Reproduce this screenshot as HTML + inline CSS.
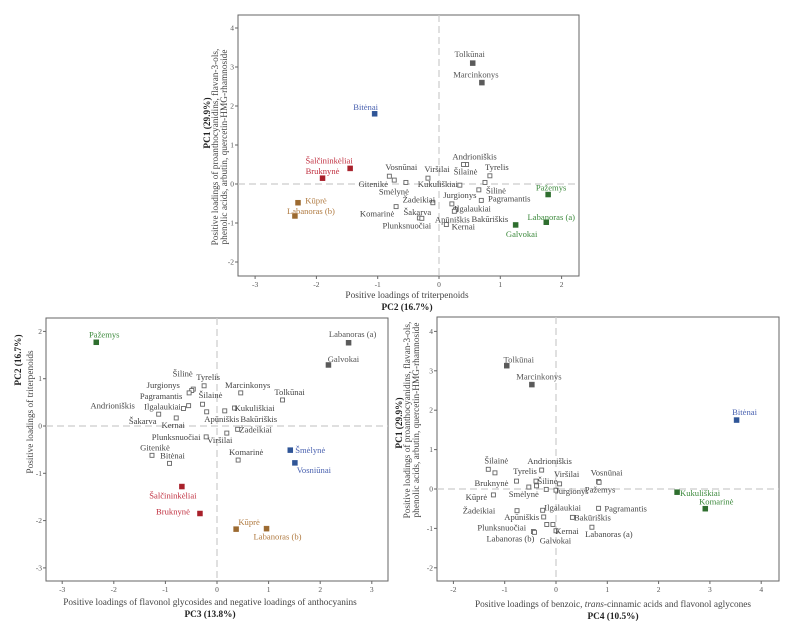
<!DOCTYPE html>
<html><head><meta charset="utf-8"><style>
html,body{margin:0;padding:0;background:#fff;}
svg{display:block;font-family:"Liberation Serif",serif;}
</style></head><body>
<svg id="fig" width="794" height="629" viewBox="0 0 794 629" xmlns="http://www.w3.org/2000/svg"></svg>
<script>
// ---------- Panel 1: PC2 (x) vs PC1 (y)
const p1Names=["Tolkūnai","Marcinkonys","Bitėnai","Šalčininkėliai","Bruknynė","Kūprė","Labanoras (b)","Pažemys","Labanoras (a)","Galvokai","Andrioniškis","Šilainė","Tyrelis","Vosnūnai","Gitenikė","Smėlynė","Viršilai","Kukuliškiai","Šilinė","Jurgionys","Pagramantis","Žadeikiai","Komarinė","Šakarva","Plunksnuočiai","Ilgalaukiai","Apūniškis","Bakūriškis","Kernai"];
const p1X=[0.55,0.7,-1.05,-1.45,-1.9,-2.3,-2.35,1.78,1.75,1.25,0.45,0.4,0.83,-0.81,-0.73,-0.54,-0.18,0.34,0.75,0.65,0.69,-0.1,-0.7,-0.32,-0.28,0.27,0.25,0.21,0.12];
const p1Y=[3.1,2.6,1.8,0.4,0.15,-0.48,-0.82,-0.27,-0.98,-1.05,0.5,0.5,0.21,0.2,0.1,0.04,0.15,-0.03,0.04,-0.15,-0.42,-0.48,-0.58,-0.87,-0.88,-0.66,-0.7,-0.51,-1.04];
const p1Group=["g","g","b","r","r","o","o","n","n","n","w","w","w","w","w","w","w","w","w","w","w","w","w","w","w","w","w","w","w"];
const p1Dx=[-3,-6,-9,-21,0,18,16,3,5,6,8,2,7,12,-21,-12,9,-22,11,-19,28,-14,-19,-2,-15,17,-2,38,17];
const p1Dy=[-9,-8,-7,-8,-7,-2,-5,-7,-5,9,-8,7,-9,-9,4,9,-9,-1,8,5,-2,-3,7,-6,7,-1,8,15,2];
const p1XTicks=[-3,-2,-1,0,1,2];
const p1YTicks=[-2,-1,0,1,2,3,4];

// ---------- Panel 2: PC3 (x) vs PC2 (y)
const p2Names=["Pažemys","Labanoras (a)","Galvokai","Šmėlynė","Vosniūnai","Šalčininkėliai","Bruknynė","Kūprė","Labanoras (b)","Tyrelis","Jurgionys","Šilinė","Pagramantis","Šilainė","Marcinkonys","Tolkūnai","Šakarva","Kernai","Andrioniškis","Ilgalaukiai","Kukuliškiai","Apūniškis","Bakūriškis","Žadeikiai","Viršilai","Plunksnuočiai","Gitenikė","Bitėnai","Komarinė"];
const p2X=[-2.34,2.55,2.16,1.42,1.51,-0.68,-0.33,0.37,0.96,-0.25,-0.46,-0.49,-0.54,-0.28,0.46,1.27,-1.13,-0.79,-0.55,-0.65,0.34,-0.2,0.15,0.4,0.19,-0.21,-1.26,-0.92,0.41];
const p2Y=[1.77,1.76,1.29,-0.51,-0.78,-1.28,-1.85,-2.18,-2.17,0.85,0.78,0.75,0.7,0.46,0.7,0.55,0.25,0.17,0.43,0.37,0.38,0.3,0.32,-0.07,-0.15,-0.23,-0.62,-0.79,-0.72];
const p2Group=["n","g","g","b","b","r","r","o","o","w","w","w","w","w","w","w","w","w","w","w","w","w","w","w","w","w","w","w","w"];
const p2Dx=[8,4,15,20,19,-9,-27,13,11,4,-30,-9,-28,8,7,7,-16,-3,-76,-21,20,15,34,18,-7,-30,3,3,8];
const p2Dy=[-8,-9,-6,0,7,9,-2,-7,8,-9,-4,-17,3,-9,-8,-8,7,7,0,-2,0,7,8,0,7,0,-8,-8,-8];
const p2XTicks=[-3,-2,-1,0,1,2,3];
const p2YTicks=[-3,-2,-1,0,1,2];

// ---------- Panel 3: PC4 (x) vs PC1 (y)
const p3Names=["Tolkūnai","Marcinkonys","Bitėnai","Kukuliškiai","Komarinė","Šilainė","Bruknynė","Andrioniškis","Tyrelis","Šilinė","Smėlynė","Viršilai","Vosnūnai","Pažemys","Jurgionys","Šakarva","Žadeikiai","Kūprė","Ilgalaukiai","Pagramantis","Apūniškis","Bakūriškis","Labanoras (a)","Plunksnuočiai","Gitenikė","Labanoras (b)","Galvokai","Kernai","Šalčininkėliai"];
const p3Labels=["Tolkūnai","Marcinkonys","Bitėnai","Kukuliškiai","Komarinė","Šilainė","Bruknynė","Andrioniškis","Tyrelis","Šilinė","Smėlynė","Viršilai","Vosnūnai","Pažemys","Jurgionys","","Žadeikiai","Kūprė","Ilgalaukiai","Pagramantis","Apūniškis","Bakūriškis","Labanoras (a)","Plunksnuočiai","","Labanoras (b)","Galvokai","Kernai",""];
const p3X=[-0.96,-0.47,3.52,2.36,2.91,-1.32,-0.77,-0.28,-0.39,-0.38,-0.53,0.07,0.83,0.84,0.0,-0.19,-0.76,-1.22,-0.26,0.83,-0.24,0.32,0.7,-0.18,-0.06,-0.44,-0.42,0.0,-1.19];
const p3Y=[3.13,2.65,1.75,-0.08,-0.5,0.5,0.2,0.48,0.2,0.08,0.05,0.13,0.19,0.17,-0.03,-0.01,-0.55,-0.15,-0.54,-0.49,-0.71,-0.72,-0.97,-0.9,-0.9,-1.08,-1.1,-1.06,0.41];
const p3Group=["g","g","b","n","n","w","w","w","w","w","w","w","w","w","w","w","w","w","w","w","w","w","w","w","w","w","w","w","w"];
const p3Dx=[12,7,8,23,11,8,-25,8,-11,11,-5,7,8,1,16,0,-38,-17,20,27,-22,20,17,-45,0,-23,21,11,0];
const p3Dy=[-6,-8,-8,1,-7,-9,2,-9,-10,-5,7,-10,-9,7,1,0,0,2,-3,0,0,0,7,3,0,7,8,0,0];
const p3XTicks=[-2,-1,0,1,2,3,4];
const p3YTicks=[-2,-1,0,1,2,3,4];

const NS="http://www.w3.org/2000/svg";
const svg=document.getElementById("fig");
const fill={g:"#5a5a5a",b:"#2f5597",r:"#a8202a",o:"#9c6a30",n:"#2e6e2e",w:"#fff"};
const lab={g:"#555",b:"#4a62b0",r:"#c03040",o:"#b07a40",n:"#3d8a3d",w:"#444"};
function mk(tag,attrs,parent){const e=document.createElementNS(NS,tag);for(const k in attrs)e.setAttribute(k,attrs[k]);(parent||svg).appendChild(e);return e;}

function panel(id,L,T,R,B,x0,xs,y0,ys,names,labels,X,Y,G,DX,DY,xt,yt){
  const g=mk("g",{});
  
  
  const sx=v=>x0+v*xs, sy=v=>y0-v*ys;
  const box=mk("rect",{x:L,y:T,width:R-L,height:B-T,fill:"#fff",stroke:"#666","stroke-width":1},g);
  
  
  const zx=mk("line",{x1:sx(0),x2:sx(0),y1:T,y2:B,stroke:"#ccc","stroke-dasharray":"7,4","stroke-width":1.2},g);
  
  
  const zy=mk("line",{x1:L,x2:R,y1:sy(0),y2:sy(0),stroke:"#ccc","stroke-dasharray":"7,4","stroke-width":1.2},g);
  
  
  xt.forEach(v=>{
    mk("line",{x1:sx(v),x2:sx(v),y1:B,y2:B+3,stroke:"#666"},g);
    const t=mk("text",{x:sx(v),y:B+11,"font-size":7.5,fill:"#555","text-anchor":"middle"},g);
    t.textContent=v;
    
    
  });
  yt.forEach(v=>{
    mk("line",{x1:L-3,x2:L,y1:sy(v),y2:sy(v),stroke:"#666"},g);
    const t=mk("text",{x:L-4,y:sy(v)+2.5,"font-size":7.5,fill:"#555","text-anchor":"end"},g);
    t.textContent=v;
    
    
  });
  names.forEach((n,i)=>{
    const c=G[i], s=c==="w"?4:5;
    const px=sx(X[i]), py=sy(Y[i]);
    const r=mk("rect",{x:px-s/2,y:py-s/2,width:s,height:s,fill:fill[c],stroke:c==="w"?"#666":fill[c],"stroke-width":c==="w"?0.9:0.5},g);
    
    
    const txt=labels?labels[i]:n;
    if(txt){
      const t=mk("text",{x:px+DX[i],y:py+DY[i]+3,"font-size":8.6,fill:lab[c],"text-anchor":"middle"},g);
      t.textContent=txt;
      
      
    }
  });
  return g;
}
function text(name,x,y,s,opts){
  const t=mk("text",Object.assign({x:x,y:y,"font-size":9.3,fill:"#333","text-anchor":"middle"},opts||{}));
  t.textContent=s;
  
  
  return t;
}
function vtext(name,x,y,s,bold){
  return text(name,x,y,s,{transform:"rotate(-90 "+x+" "+y+")","font-weight":bold?"bold":"normal",fill:bold?"#222":"#444"});
}

panel("panel-pc2-pc1",238,15,579,276,439,61.3,184,39,p1Names,null,p1X,p1Y,p1Group,p1Dx,p1Dy,p1XTicks,p1YTicks);
panel("panel-pc3-pc2",46,318,388,581,217,51.6,426,47.3,p2Names,null,p2X,p2Y,p2Group,p2Dx,p2Dy,p2XTicks,p2YTicks);
panel("panel-pc4-pc1",437,317,779,581,556,51.3,489,39.4,p3Names,p3Labels,p3X,p3Y,p3Group,p3Dx,p3Dy,p3XTicks,p3YTicks);

// panel 1 titles
vtext("y-axis-title-pc1",210,123,"PC1 (29.9%)",true);
vtext("y-axis-subtitle-1",218,147,"Positive loadings of proanthocyanidins, flavan-3-ols,");
vtext("y-axis-subtitle-2",227,147,"phenolic acids, arbutin, quercetin-HMG-rhamnoside");
text("x-axis-subtitle-triterpenoids",407,298,"Positive loadings of triterpenoids",{fill:"#444"});
text("x-axis-title-pc2",407,310,"PC2 (16.7%)",{"font-weight":"bold",fill:"#222"});
// panel 2 titles
vtext("y-axis-title-pc2",21,360,"PC2 (16.7%)",true);
vtext("y-axis-subtitle-triterpenoids",33,412,"Positive loadings of triterpenoids");
text("x-axis-subtitle-flavonol",210,605,"Positive loadings of flavonol glycosides and negative loadings of anthocyanins",{fill:"#444"});
text("x-axis-title-pc3",210,617,"PC3 (13.8%)",{"font-weight":"bold",fill:"#222"});
// panel 3 titles
vtext("y-axis-title-pc1-b",402,423,"PC1 (29.9%)",true);
vtext("y-axis-subtitle-3",410,420,"Positive loadings of proanthocyanidins, flavan-3-ols,");
vtext("y-axis-subtitle-4",419,420,"phenolic acids, arbutin, quercetin-HMG-rhamnoside");
const xs3=text("x-axis-subtitle-benzoic",613,607,"",{fill:"#444"});
xs3.innerHTML='Positive loadings of benzoic, <tspan font-style="italic">trans</tspan>-cinnamic acids and flavonol aglycones';
text("x-axis-title-pc4",613,619,"PC4 (10.5%)",{"font-weight":"bold",fill:"#222"});
</script>
</body></html>
